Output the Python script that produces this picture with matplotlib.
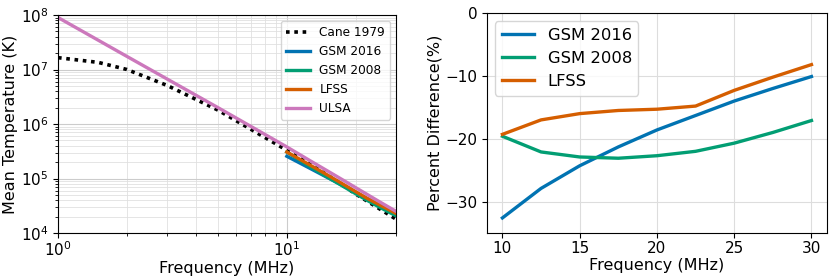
import matplotlib
matplotlib.use("Agg")
import matplotlib.pyplot as plt
import numpy as np

# Cane 1979 reference spectrum (MHz, K)
cane_freq = [1.0, 1.5, 2.0, 3.0, 5.0, 7.0, 10.0, 15.0, 20.0, 30.0]
cane_temp = [1.65e7, 1.35e7, 1.0e7, 5.1e6, 1.8e6, 7.9e5, 3.3e5, 1.17e5, 5.2e4, 1.8e4]

# ULSA over full band
ulsa_freq = [1.0, 2.0, 5.0, 10.0, 12.5, 15.0, 17.5, 20.0, 22.5, 25.0, 27.5, 30.0]
ulsa_temp = [9.0e7, 1.74e7, 2.0e6, 3.8e5, 2.18e5, 1.39e5, 9.5e4, 6.8e4, 5.07e4, 3.9e4, 3.09e4, 2.5e4]

# models only above 10 MHz
model_freq = [10.0, 12.5, 15.0, 17.5, 20.0, 22.5, 25.0, 27.5, 30.0]
gsm2016_temp = [2.56e5, 1.57e5, 1.05e5, 7.48e4, 5.53e4, 4.24e4, 3.35e4, 2.72e4, 2.25e4]
gsm2008_temp = [3.06e5, 1.70e5, 1.07e5, 7.31e4, 5.25e4, 3.95e4, 3.09e4, 2.50e4, 2.07e4]
lfss_temp = [3.07e5, 1.81e5, 1.17e5, 8.02e4, 5.75e4, 4.31e4, 3.42e4, 2.77e4, 2.29e4]

# percent difference w.r.t. ULSA
gsm2016_pct = [-32.6, -27.9, -24.3, -21.3, -18.6, -16.3, -14.0, -12.0, -10.1]
gsm2008_pct = [-19.6, -22.1, -22.9, -23.1, -22.7, -22.0, -20.7, -19.0, -17.1]
lfss_pct = [-19.3, -17.0, -16.0, -15.5, -15.3, -14.8, -12.3, -10.2, -8.2]

c_blue = '#0173b2'
c_green = '#029e73'
c_orange = '#d55e00'
c_pink = '#cc78bc'

fig = plt.figure(figsize=(8.3, 2.77), dpi=100)
ax1 = fig.add_axes([0.0699, 0.1588, 0.4072, 0.787])
ax2 = fig.add_axes([0.5867, 0.1588, 0.4096, 0.794])

lw = 2.4
ax1.plot(cane_freq, cane_temp, color='black', ls=(0, (1, 1.3)), lw=2.6, label='Cane 1979')
ax1.plot(model_freq, gsm2016_temp, color=c_blue, lw=lw, label='GSM 2016')
ax1.plot(model_freq, gsm2008_temp, color=c_green, lw=lw, label='GSM 2008')
ax1.plot(model_freq, lfss_temp, color=c_orange, lw=lw, label='LFSS')
ax1.plot(ulsa_freq, ulsa_temp, color=c_pink, lw=lw, label='ULSA')
ax1.set_xscale('log')
ax1.set_yscale('log')
ax1.set_xlim(1, 30)
ax1.set_ylim(1e4, 1e8)
ax1.grid(which='major', color='#cccccc', lw=0.8)
ax1.grid(which='minor', color='#e0e0e0', lw=0.6)
ax1.set_xlabel('Frequency (MHz)', fontsize=11.5, labelpad=1)
ax1.set_ylabel('Mean Temperature (K)', fontsize=11.5, labelpad=2)
ax1.tick_params(labelsize=11)
ax1.tick_params(axis='x', pad=2)
ax1.legend(loc='upper right', fontsize=8.7)

ax2.plot(model_freq, gsm2016_pct, color=c_blue, lw=lw, label='GSM 2016')
ax2.plot(model_freq, gsm2008_pct, color=c_green, lw=lw, label='GSM 2008')
ax2.plot(model_freq, lfss_pct, color=c_orange, lw=lw, label='LFSS')
ax2.set_xlim(9, 31)
ax2.set_ylim(-35, 0)
ax2.set_xticks([10, 15, 20, 25, 30])
ax2.set_yticks([0, -10, -20, -30])
ax2.grid(color='#dddddd', lw=0.8)
ax2.set_xlabel('Frequency (MHz)', fontsize=11.5, labelpad=1)
ax2.set_ylabel('Percent Difference(%)', fontsize=11.5, labelpad=2)
ax2.tick_params(labelsize=11)
ax2.tick_params(axis='x', pad=2.5)
ax2.legend(loc='upper left', fontsize=11.8)

fig.savefig('out.png', dpi=100)
